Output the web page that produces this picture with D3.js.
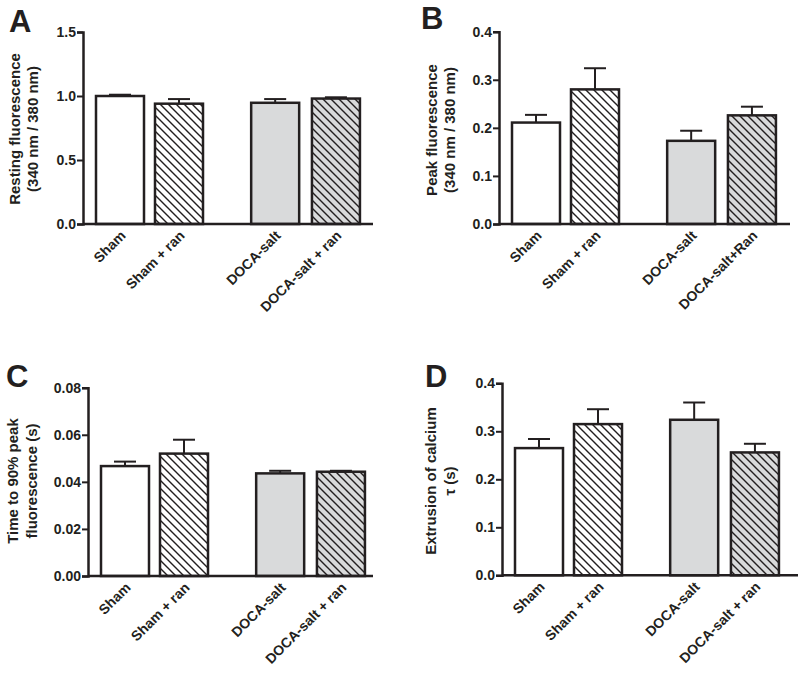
<!DOCTYPE html>
<html><head><meta charset="utf-8">
<script src="https://cdn.jsdelivr.net/npm/d3@7"></script>
<style>body{margin:0;background:#fff}svg{display:block}text{font-family:"Liberation Sans",Arial,sans-serif;font-weight:bold;fill:#231f20}</style>
</head><body>
<svg id="c" width="800" height="675"></svg>
<script>
// ---- data ----
const groups = ["Sham", "Sham + ran", "DOCA-salt", "DOCA-salt + ran"];
const groupsB = ["Sham", "Sham + ran", "DOCA-salt", "DOCA-salt+Ran"];
const restingMean = [1.00, 0.94, 0.947, 0.98];
const restingErr  = [1.01, 0.976, 0.976, 0.99];
const peakMean = [0.211, 0.280, 0.173, 0.226];
const peakErr  = [0.227, 0.324, 0.194, 0.244];
const timeMean = [0.0467, 0.0520, 0.0436, 0.0443];
const timeErr  = [0.0486, 0.0579, 0.0447, 0.0447];
const tauMean = [0.265, 0.315, 0.324, 0.256];
const tauErr  = [0.284, 0.346, 0.360, 0.274];
const ticksA = [0.0, 0.5, 1.0, 1.5];
const ticksB = [0.0, 0.1, 0.2, 0.3, 0.4];
const ticksC = [0.00, 0.02, 0.04, 0.06, 0.08];
const ticksD = [0.0, 0.1, 0.2, 0.3, 0.4];
const fills = ["white", "hatchW", "gray", "hatchG"];

// ---- layout ----
const slots = [0, 1, 2.63, 3.66];
const panels = [
  {letter:"A", lx:9, ly:32, ax:83, y0:224, y1:32, xEnd:373, cats:groups, mean:restingMean, err:restingErr, ticks:ticksA, dec:1,
   title:["Resting fluorescence","(340 nm / 380 nm)"], tx:[15,33], ty:129},
  {letter:"B", lx:421, ly:29, ax:499, y0:224, y1:31.7, xEnd:790, cats:groupsB, mean:peakMean, err:peakErr, ticks:ticksB, dec:1,
   title:["Peak fluorescence","(340 nm / 380 nm)"], tx:[432,450], ty:130},
  {letter:"C", lx:6, ly:387, ax:88, y0:576, y1:387.7, xEnd:373, cats:groups, mean:timeMean, err:timeErr, ticks:ticksC, dec:2,
   title:["Time to 90% peak","fluorescence (s)"], tx:[13,32], ty:481},
  {letter:"D", lx:425, ly:387, ax:502, y0:575.3, y1:383.3, xEnd:798, cats:groups, mean:tauMean, err:tauErr, ticks:ticksD, dec:1,
   title:["Extrusion of calcium","τ  (s)"], tx:[431,450], ty:481}
];
const ink = "#231f20";
const svg = d3.select("#c");
const defs = svg.append("defs");
[["hatchW","white"],["hatchG","#d9dadb"]].forEach(([id,bg])=>{
  const p = defs.append("pattern").attr("id",id).attr("patternUnits","userSpaceOnUse")
    .attr("width",8).attr("height",8);
  p.append("rect").attr("width",8).attr("height",8).attr("fill",bg);
  p.append("path").attr("d","M0,0L8,8M-2,6L2,10M6,-2L10,2").attr("stroke",ink).attr("stroke-width",1.4);
});
const fillOf = f => f==="white" ? "white" : f==="gray" ? "#d9dadb" : `url(#${f})`;

panels.forEach(p=>{
  const g = svg.append("g");
  const maxV = p.ticks[p.ticks.length-1];
  const y = d3.scaleLinear().domain([0,maxV]).range([p.y0,p.y1]);
  const x = d3.scaleLinear().domain([0,1]).range([p.ax+37, p.ax+96]);
  const bw = 48;

  p.mean.forEach((v,i)=>{
    const cx = x(slots[i]);
    g.append("line").attr("x1",cx).attr("x2",cx).attr("y1",y(v)).attr("y2",y(p.err[i]))
      .attr("stroke",ink).attr("stroke-width",2);
    g.append("line").attr("x1",cx-11).attr("x2",cx+11).attr("y1",y(p.err[i])).attr("y2",y(p.err[i]))
      .attr("stroke",ink).attr("stroke-width",2);
    g.append("rect").attr("x",cx-bw/2).attr("y",y(v)).attr("width",bw).attr("height",y(0)-y(v))
      .attr("fill",fillOf(fills[i])).attr("stroke",ink).attr("stroke-width",2.5);
    g.append("text").attr("transform",`translate(${cx+3},${p.y0+9}) rotate(-45)`)
      .attr("text-anchor","end").attr("dy","0.35em").attr("font-size",14).text(p.cats[i]);
  });

  const axis = d3.axisLeft(y).tickValues(p.ticks).tickSizeOuter(0).tickSize(6)
    .tickFormat(d=>d.toFixed(p.dec));
  const ag = g.append("g").attr("transform",`translate(${p.ax},0)`).call(axis);
  ag.select(".domain").attr("stroke",ink).attr("stroke-width",2.5);
  ag.selectAll(".tick line").attr("stroke",ink).attr("stroke-width",2);
  ag.selectAll(".tick text").attr("font-size",14).attr("font-family",null).attr("fill",ink).attr("x",-7);
  g.append("line").attr("x1",p.ax).attr("x2",p.xEnd).attr("y1",p.y0).attr("y2",p.y0)
    .attr("stroke",ink).attr("stroke-width",2.5);

  p.title.forEach((t,k)=>{
    g.append("text").attr("transform",`translate(${p.tx[k]},${p.ty}) rotate(-90)`)
      .attr("text-anchor","middle").attr("dy","0.35em").attr("font-size",15).text(t);
  });
  g.append("text").attr("x",p.lx).attr("y",p.ly).attr("font-size",31).text(p.letter);
});
</script>
</body></html>
